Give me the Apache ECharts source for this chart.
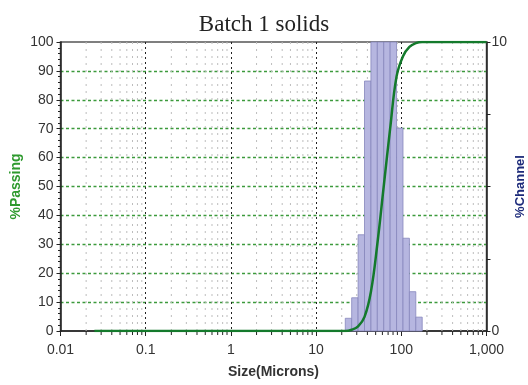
<!DOCTYPE html>
<html>
<head>
<meta charset="utf-8">
<script src="https://cdn.jsdelivr.net/npm/echarts@6/dist/echarts.min.js"></script>
<style>
  html, body { margin: 0; padding: 0; background: #fff; }
  #chart { width: 528px; height: 385px; }
</style>
</head>
<body>
<div id="chart"></div>
<script>
// channel edges (microns) and % in each channel
const channelEdges = [22, 26.16, 31.11, 37, 44, 52.33, 62.23, 74, 88, 104.7, 124.5, 148, 176];
const channelPct = [0.44, 1.15, 3.33, 8.65, 16.5, 20.0, 20.0, 18.0, 7.02, 3.21, 1.36, 0.48];

// cumulative % passing
const passSize = [0.025, 22, 26.16, 31.11, 37, 44, 52.33, 62.23, 74, 88, 104.7, 124.5, 148, 176, 1000];
const passPct = [0, 0, 0.44, 1.6, 4.9, 13.6, 30.1, 50.1, 70.1, 88.1, 95.1, 98.3, 99.6, 100, 100];

// minor log positions (2..9 in each decade)
const minorSizes = [
  0.02, 0.03, 0.04, 0.05, 0.06, 0.07, 0.08, 0.09,
  0.2, 0.3, 0.4, 0.5, 0.6, 0.7, 0.8, 0.9,
  2, 3, 4, 5, 6, 7, 8, 9,
  20, 30, 40, 50, 60, 70, 80, 90,
  200, 300, 400, 500, 600, 700, 800, 900
];
const sizeLabels = { 0.01: '0.01', 0.1: '0.1', 1: '1', 10: '10', 100: '100', 1000: '1,000' };
const channelLabels = { 0: '0', 10: '10' };

const chart = echarts.init(document.getElementById('chart'));

const binData = channelPct.map((p, i) => [channelEdges[i], channelEdges[i + 1], p]);
const passData = passSize.map((s, i) => [s, passPct[i]]);

const green = '#3c9a3c';
const labelFont = { fontFamily: 'Liberation Sans, Arial', fontSize: 14, color: '#333' };

const option = {
  animation: false,
  title: {
    text: 'Batch 1 solids',
    left: 'center',
    top: 8,
    textStyle: { fontFamily: 'Liberation Serif', fontSize: 23, fontWeight: 'normal', color: '#222' }
  },
  grid: {
    left: 60.5, right: 41.5, top: 42, bottom: 54,
    outerBoundsMode: 'none',
    containLabel: false,
    show: true, borderColor: '#555', borderWidth: 1.5
  },
  xAxis: {
    type: 'log',
    logBase: 10,
    min: 0.01,
    max: 1000,
    name: 'Size(Microns)',
    nameLocation: 'middle',
    nameGap: 34,
    nameTextStyle: { fontFamily: 'Liberation Sans, Arial', fontSize: 14, fontWeight: 'bold', color: '#333' },
    axisLine: { lineStyle: { color: '#222', width: 1.5 } },
    axisTick: { show: true, length: 5, lineStyle: { color: '#222' } },
    axisLabel: Object.assign({ margin: 12, formatter: v => sizeLabels[v] ?? '' }, labelFont),
    splitLine: {
      show: true,
      lineStyle: { color: ['rgba(0,0,0,0)', '#222', '#222', '#222', '#222', 'rgba(0,0,0,0)'], type: [2, 3], width: 1 }
    }
  },
  yAxis: [
    {
      type: 'value',
      min: 0, max: 100, interval: 10,
      name: '%Passing',
      nameLocation: 'middle',
      nameRotate: 90,
      nameGap: 37,
      nameMoveOverlap: false,
      nameTextStyle: { fontFamily: 'Liberation Sans, Arial', fontSize: 14, fontWeight: 'bold', color: '#2e9a2e' },
      axisLine: { show: true, lineStyle: { color: '#222', width: 1.5 } },
      axisTick: { show: true, length: 4, lineStyle: { color: '#222' } },
      minorTick: { show: true, splitNumber: 5, length: 2.5, lineStyle: { color: '#222' } },
      axisLabel: Object.assign({ margin: 7 }, labelFont),
      splitLine: {
        show: true,
        lineStyle: {
          color: ['rgba(0,0,0,0)', green, green, green, green, green, green, green, green, green, 'rgba(0,0,0,0)'],
          type: [3, 2.5], width: 1.3
        }
      }
    },
    {
      type: 'value',
      min: 0, max: 10, interval: 2.5,
      position: 'right',
      name: '%Channel',
      nameLocation: 'middle',
      nameRotate: 90,
      nameGap: 27,
      nameMoveOverlap: false,
      nameTextStyle: { fontFamily: 'Liberation Sans, Arial', fontSize: 13, fontWeight: 'bold', color: '#1c2a7a' },
      axisLine: { show: true, lineStyle: { color: '#222', width: 1.5 } },
      axisTick: { show: true, length: 4, lineStyle: { color: '#222' } },
      axisLabel: Object.assign({ margin: 5, formatter: v => channelLabels[v] ?? '' }, labelFont),
      splitLine: { show: false }
    }
  ],
  series: [
    {
      // light minor grid lines and minor ticks
      type: 'custom',
      silent: true,
      z: 1,
      yAxisIndex: 0,
      data: minorSizes.map(v => [v, 0]),
      encode: { x: 0, y: 1 },
      renderItem(params, api) {
        const bot = api.coord([api.value(0), 0]);
        const top = api.coord([api.value(0), 100]);
        return {
          type: 'group',
          children: [
            {
              type: 'line',
              shape: { x1: bot[0], y1: bot[1], x2: top[0], y2: top[1] },
              style: { stroke: '#bdbdbd', lineWidth: 1, lineDash: [2, 5] }
            },
            {
              type: 'line',
              shape: { x1: bot[0], y1: bot[1], x2: bot[0], y2: bot[1] + 4 },
              style: { stroke: '#222', lineWidth: 1 }
            }
          ]
        };
      }
    },
    {
      type: 'custom',
      name: '%Channel',
      yAxisIndex: 1,
      z: 2,
      data: binData,
      encode: { x: [0, 1], y: 2 },
      renderItem(params, api) {
        const lo = api.coord([api.value(0), 0]);
        const hi = api.coord([api.value(1), api.value(2)]);
        const rect = echarts.graphic.clipRectByRect(
          { x: lo[0], y: hi[1], width: hi[0] - lo[0], height: lo[1] - hi[1] },
          { x: params.coordSys.x, y: params.coordSys.y, width: params.coordSys.width, height: params.coordSys.height }
        );
        return rect && {
          type: 'rect',
          shape: rect,
          style: { fill: '#b6b6e0', stroke: '#8787bd', lineWidth: 0.8 }
        };
      }
    },
    {
      type: 'line',
      name: '%Passing',
      yAxisIndex: 0,
      z: 3,
      data: passData,
      smooth: 0.4,
      symbol: 'none',
      lineStyle: { color: '#147a2c', width: 2.5 }
    }
  ]
};

chart.setOption(option);
</script>
</body>
</html>
